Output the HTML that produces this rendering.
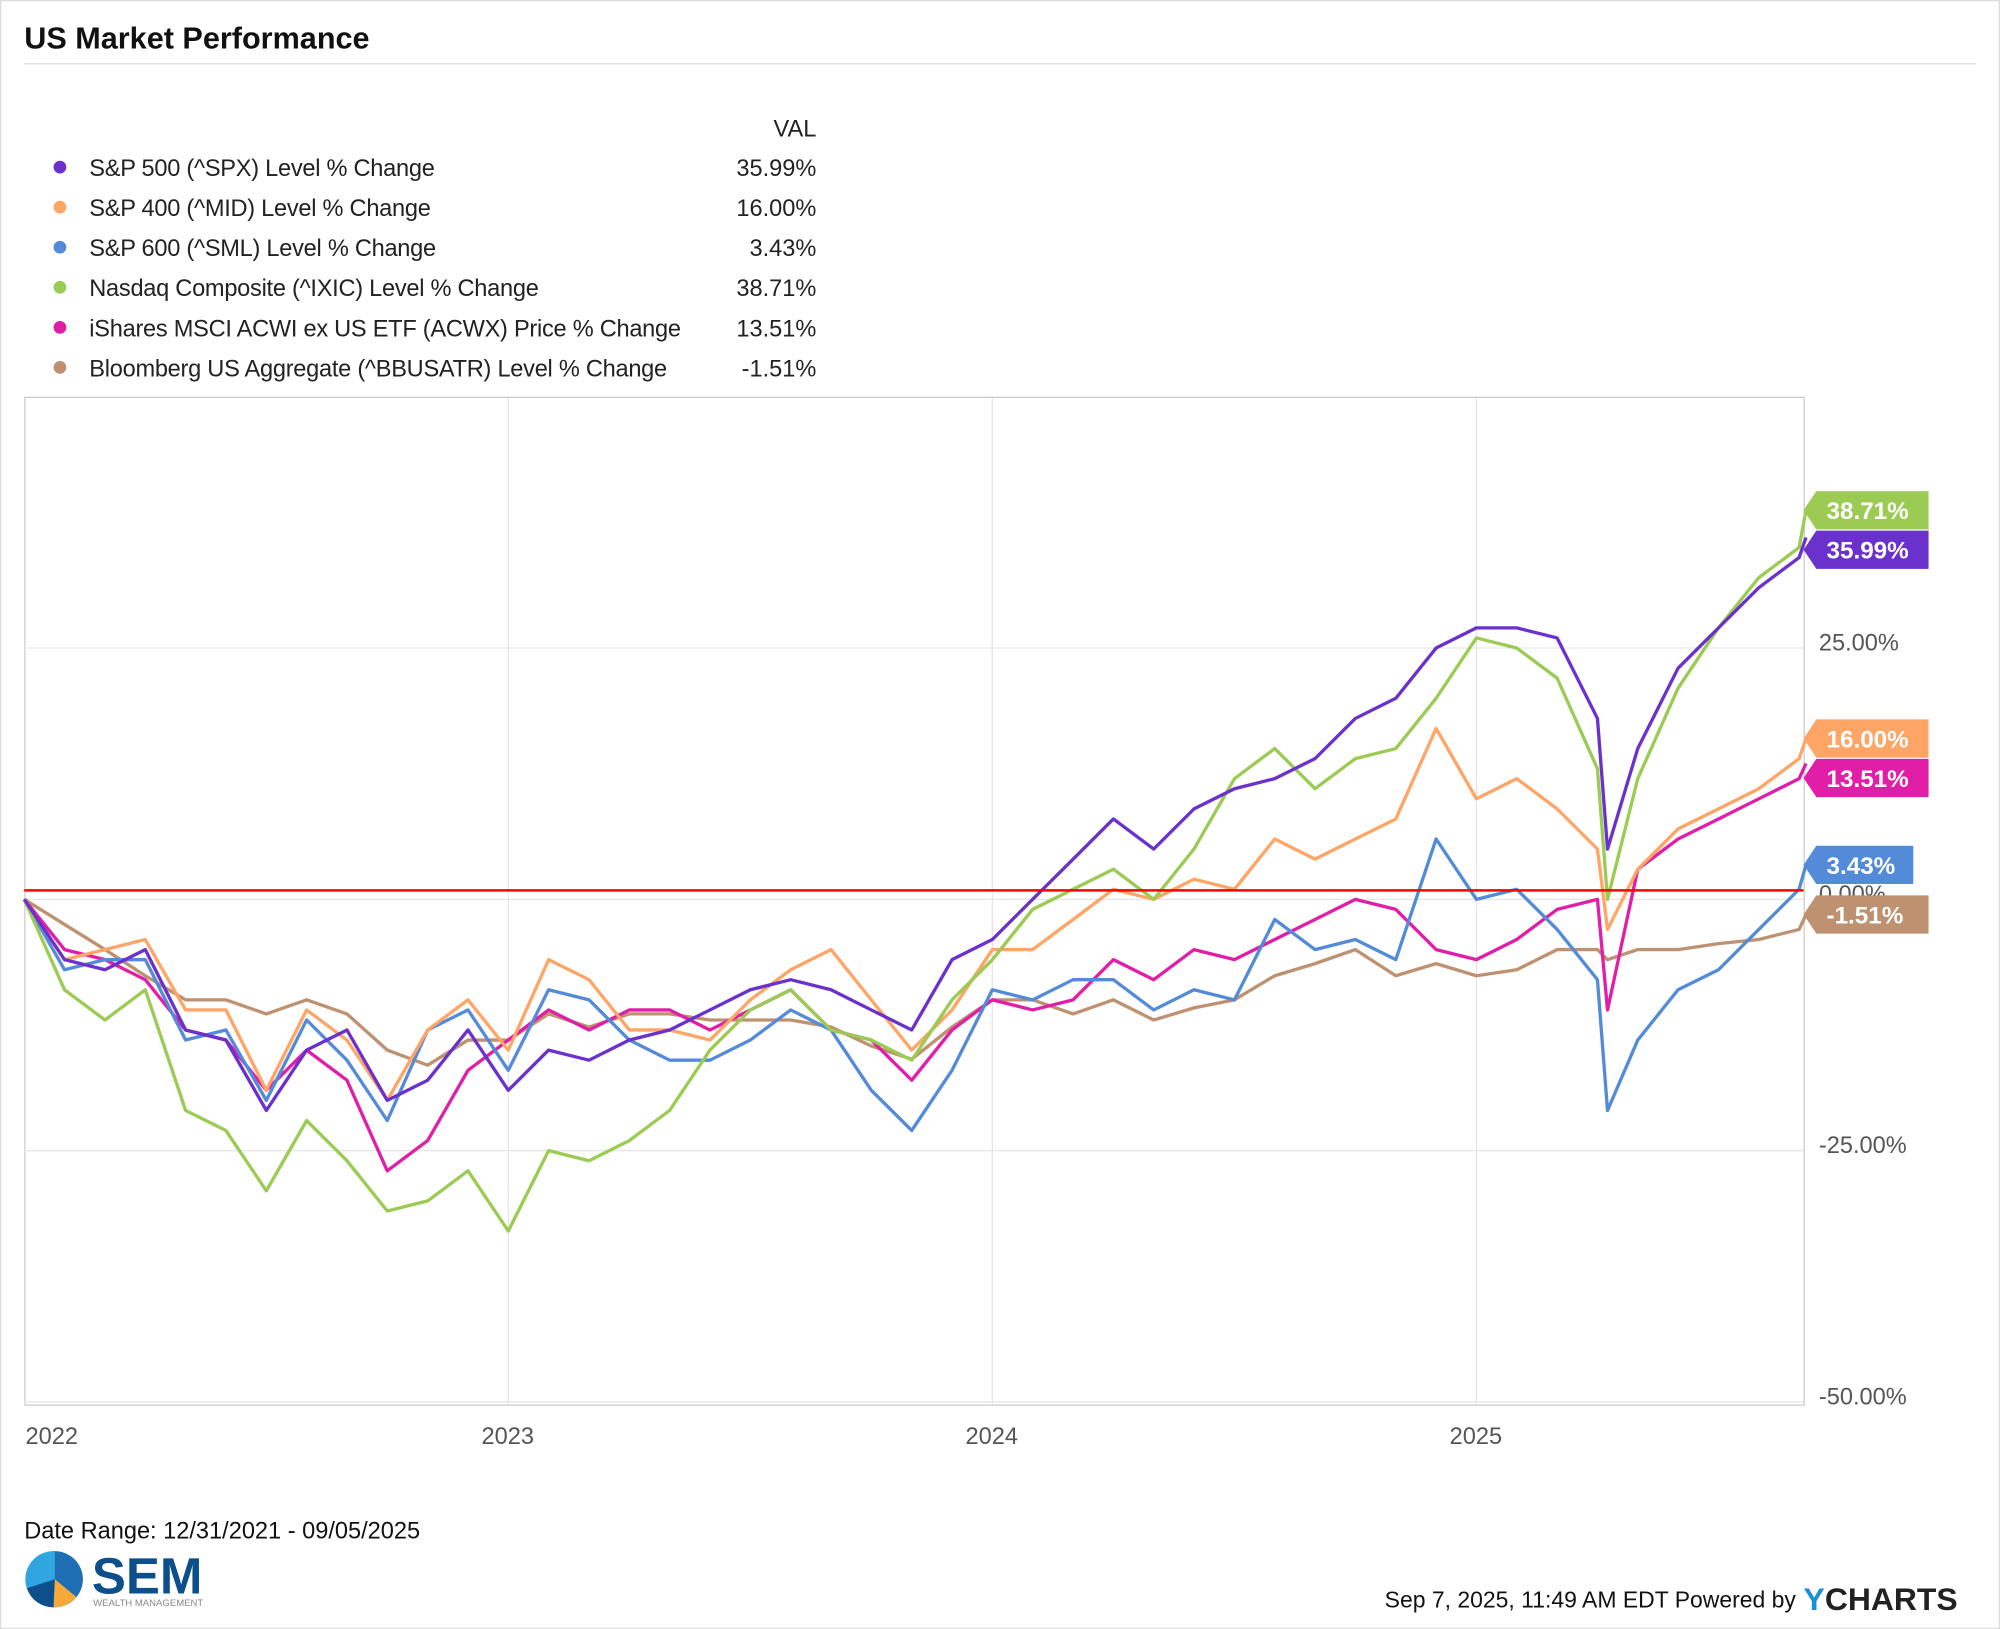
<!DOCTYPE html>
<html><head><meta charset="utf-8"><style>
html,body{margin:0;padding:0;background:#fff;}
svg{display:block;font-family:"Liberation Sans",sans-serif;}
</style></head><body>
<svg id="chart" width="2000" height="1629" viewBox="0 0 1568 1277" preserveAspectRatio="none" xmlns="http://www.w3.org/2000/svg">
<rect x="0.5" y="0.5" width="1567" height="1276" fill="#fff" stroke="#ddd"/>
<text x="19" y="38" font-size="24" font-weight="bold" fill="#111">US Market Performance</text>
<line x1="19" y1="50" x2="1549" y2="50" stroke="#ddd"/>
<g id="legend">
<text x="640" y="107" font-size="18.5" text-anchor="end" fill="#222">VAL</text>
</g>
<rect x="19.5" y="311.5" width="1395" height="790" fill="none" stroke="#ccc"/>
<g id="grid"></g>
<g id="series"></g>
<g id="labels"></g>
<text x="19" y="1206" font-size="18.5" fill="#111">Date Range: 12/31/2021 - 09/05/2025</text>
<g>
<circle cx="43" cy="1238" r="22" fill="#1f6fb5"/>
<path d="M43,1238 L21,1245 A22,22 0 0 0 42,1260 Z" fill="#0d4f8b"/>
<path d="M43,1238 L42,1260 A22,22 0 0 0 60,1252 Z" fill="#f5a93b"/>
<path d="M43,1238 L43,1216 A22,22 0 0 0 21,1245 Z" fill="#2fa6e0"/>
<text x="72" y="1249" font-size="40" font-weight="bold" fill="#0d4f8b">SEM</text>
<text x="73" y="1259" font-size="7.5" fill="#888">WEALTH MANAGEMENT</text>
</g>
<text x="1408" y="1260" font-size="18" text-anchor="end" fill="#111">Sep 7, 2025, 11:49 AM EDT Powered by</text>
<text x="1414" y="1262" font-size="25" font-weight="bold" fill="#222"><tspan fill="#1a8fd6">Y</tspan>CHARTS</text>
</svg>
<script>
const xTickLabels = ["2022","2023","2024","2025"];
const yTickValues = [25, 0, -25, -50];
const seriesNames = ["S&P 500 (^SPX) Level % Change","S&P 400 (^MID) Level % Change","S&P 600 (^SML) Level % Change","Nasdaq Composite (^IXIC) Level % Change","iShares MSCI ACWI ex US ETF (ACWX) Price % Change","Bloomberg US Aggregate (^BBUSATR) Level % Change"];
// months since 12/31/2021
const monthPos = [0,1,2,3,4,5,6,7,8,9,10,11,12,13,14,15,16,17,18,19,20,21,22,23,24,25,26,27,28,29,30,31,32,33,34,35,36,37,38,39,39.25,40,41,42,43,44,44.17];
const spx = [0,-6,-7,-5,-13,-14,-21,-15,-13,-20,-18,-13,-19, -15,-16,-14,-13,-11,-9,-8,-9,-11,-13,-6,-4, 0,4,8,5,9,11,12,14,18,20,25,27, 27,26,18,5,15,23,27,31,34, 35.99];
const mid = [0,-6,-5,-4,-11,-11,-19,-11,-14,-20,-13,-10,-15, -6,-8,-13,-13,-14,-10,-7,-5,-10,-15,-11,-5, -5,-2,1,0,2,1,6,4,6,8,17,10, 12,9,5,-3,3,7,9,11,14, 16.00];
const sml = [0,-7,-6,-6,-14,-13,-20,-12,-16,-22,-13,-11,-17, -9,-10,-14,-16,-16,-14,-11,-13,-19,-23,-17,-9, -10,-8,-8,-11,-9,-10,-2,-5,-4,-6,6,0, 1,-3,-8,-21,-14,-9,-7,-3,1, 3.43];
const ixic = [0,-9,-12,-9,-21,-23,-29,-22,-26,-31,-30,-27,-33, -25,-26,-24,-21,-15,-11,-9,-13,-14,-16,-10,-6, -1,1,3,0,5,12,15,11,14,15,20,26, 25,22,13,0,12,21,27,32,35, 38.71];
const acwx = [0,-5,-6,-8,-13,-14,-19,-15,-18,-27,-24,-17,-14, -11,-13,-11,-11,-13,-11,-9,-13,-14,-18,-13,-10, -11,-10,-6,-8,-5,-6,-4,-2,0,-1,-5,-6, -4,-1,0,-11,3,6,8,10,12, 13.51];
const bbus = [0,-2.5,-5,-7.6,-10,-10,-11.4,-10,-11.4,-15,-16.5,-14,-14, -11.4,-12.7,-11.4,-11.4,-12,-12,-12,-12.7,-14.6,-15.9,-12.7,-10, -10,-11.4,-10,-12,-10.8,-10,-7.6,-6.4,-5,-7.6,-6.4,-7.6, -7,-5,-5,-6,-5,-5,-4.4,-4,-3, -1.51];

const NS="http://www.w3.org/2000/svg";
const colors=["#6a31cc","#ffa566","#548bd8","#9bcb52","#e01ea8","#be9170"];
const data=[spx,mid,sml,ixic,acwx,bbus];
const X0=19, PXY=379.5/12, Y0=705, PXP=197/25;
function xm(i){return X0+monthPos[i]*PXY;}
function yv(v){return Y0-v*PXP;}
function mk(tag,attrs,parent){const e=document.createElementNS(NS,tag);for(const k in attrs)e.setAttribute(k,attrs[k]);parent.appendChild(e);return e;}

const grid=document.getElementById('grid');
yTickValues.forEach(v=>{
  const l=mk('line',{x1:19,x2:1414,y1:yv(v),y2:yv(v),stroke:'#e6e6e6'},grid);
  
  
  const t=mk('text',{x:1426,y:yv(v)+2,'font-size':18.5,fill:'#555'},grid);
  t.textContent=(v===0?"0.00%":v.toFixed(2)+"%");
  
  
});
xTickLabels.forEach((s,k)=>{
  const x=X0+k*379.5;
  if(k>0){const l=mk('line',{x1:x,x2:x,y1:312,y2:1101,stroke:'#e6e6e6'},grid);
  
  }
  const t=mk('text',{x:k===0?20:x-21,y:1132,'font-size':18.5,fill:'#555'},grid);
  t.textContent=s;
  
  
});

const sg=document.getElementById('series');
const order=[5,4,2,1,3,0];
order.forEach(si=>{
  const arr=data[si];
  const pts=arr.map((v,i)=>xm(i).toFixed(1)+","+yv(v).toFixed(1)).join(" ");
  const p=mk('polyline',{points:pts,fill:'none',stroke:colors[si],'stroke-width':2.6,'stroke-linejoin':'round'},sg);
  
  
});
const red=mk('line',{x1:19,x2:1414,y1:698,y2:698,stroke:'#f00','stroke-width':2},sg);



const lg=document.getElementById('legend');
seriesNames.forEach((n,i)=>{
  const y=131+i*31.4;
  const c=mk('circle',{cx:47,cy:y,r:5,fill:colors[i]},lg);
  
  
  const t=mk('text',{x:70,y:y+7,'font-size':18.5,fill:'#222','letter-spacing':'-0.2'},lg);
  t.textContent=n;
  
  
  const v=mk('text',{x:640,y:y+7,'font-size':18.5,fill:'#222','text-anchor':'end'},lg);
  const last=data[i][data[i].length-1];
  v.textContent=last.toFixed(2)+"%";
  
  
});

const lb=document.getElementById('labels');
const items=data.map((a,i)=>({i,v:a[a.length-1],y:yv(a[a.length-1])})).sort((a,b)=>a.y-b.y);
for(let k=1;k<items.length;k++){if(items[k].y-items[k-1].y<31)items[k].y=items[k-1].y+31;}
items.forEach(it=>{
  const txt=it.v.toFixed(2)+"%";
  const w=txt.length>=6?88:76;
  const y=it.y, h=30;
  const g=mk('g',{},lb);
  
  
  mk('polygon',{points:`1414,${y} 1424,${y-h/2} ${1424+w},${y-h/2} ${1424+w},${y+h/2} 1424,${y+h/2}`,fill:colors[it.i]},g);
  const t=mk('text',{x:1432,y:y+7,'font-size':19,'font-weight':'bold',fill:'#fff'},g);
  t.textContent=txt;
});
</script>
</body></html>
